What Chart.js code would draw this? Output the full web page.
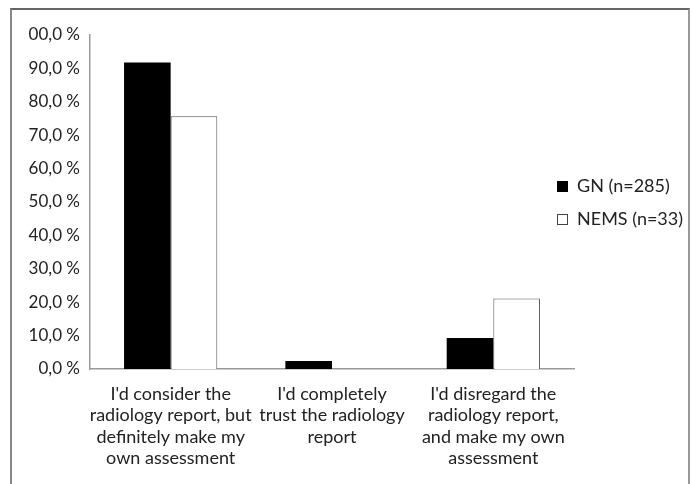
<!DOCTYPE html>
<html>
<head>
<meta charset="utf-8">
<script src="https://cdn.jsdelivr.net/npm/chart.js@4"></script>
<style>
  html, body { margin: 0; padding: 0; background: #fff; }
  #wrap { position: relative; width: 694px; height: 484px; overflow: hidden; }
  #frame {
    position: absolute; left: 10px; top: 8px; width: 676px; height: 520px;
    border-top: 2px solid #666; border-left: 2px solid #888; border-right: 2px solid #999;
  }
  #chart { position: absolute; left: 0; top: 0; }
  .legend { position: absolute; left: 557px; font-family: Lato, sans-serif; font-size: 18px; color: #222; line-height: 22px; }
  .legend span.box { display: inline-block; width: 11px; height: 11px; box-sizing: border-box; margin-right: 9px; vertical-align: 0px; }
</style>
</head>
<body>
<div id="wrap">
  <div id="frame"></div>
  <canvas id="chart" width="694" height="484"></canvas>
  <div id="legend"></div>
</div>
<script>
// categories and values
const categories = [
    ["I'd consider the", 'radiology report, but', 'definitely make my', 'own assessment'],
    ["I'd completely", 'trust the radiology', 'report'],
    ["I'd disregard the", 'radiology report,', 'and make my own', 'assessment']
];
const seriesNames = ['GN (n=285)', 'NEMS (n=33)'];
const gnValues = [91.8, 2.4, 9.3];
const nemsValues = [75.7, 0, 21.1];
// as printed in the picture (the leading 1 of the top label is clipped off)
const tickLabels = ['0,0 %', '10,0 %', '20,0 %', '30,0 %', '40,0 %', '50,0 %',
    '60,0 %', '70,0 %', '80,0 %', '90,0 %', '00,0 %'];

const font = 'Lato, sans-serif';
const ink = '#222';

new Chart(document.getElementById('chart'), {
    type: 'bar',
    data: {
        labels: categories,
        datasets: [
            { label: seriesNames[0], data: gnValues, backgroundColor: '#000', borderColor: '#000', borderWidth: 0 },
            { label: seriesNames[1], data: nemsValues, backgroundColor: '#fff', borderColor: '#555', borderWidth: 1 }
        ]
    },
    options: {
        responsive: false,
        animation: false,
        layout: { padding: { left: 0, right: 120, top: 35, bottom: 0 } },
        datasets: { bar: { categoryPercentage: 0.578, barPercentage: 1 } },
        plugins: { legend: { display: false }, tooltip: { enabled: false } },
        scales: {
            x: {
                grid: { display: false, drawTicks: false },
                border: { display: true, color: '#999', width: 1.5 },
                ticks: { color: ink, font: { family: font, size: 18, lineHeight: 1.2 }, padding: 14, maxRotation: 0, autoSkip: false },
                afterFit: s => { s.height = 115; }
            },
            y: {
                min: 0, max: 100,
                grid: { display: false, drawTicks: false },
                border: { display: true, color: '#999', width: 1.5 },
                ticks: {
                    stepSize: 10, color: ink, padding: 10,
                    font: { family: font, size: 17 },
                    callback: (v, i) => tickLabels[i]
                },
                afterFit: s => { s.width = 90; }
            }
        }
    }
});

// legend as real text, placed where the reference shows it
const legend = document.getElementById('legend');
const swatches = [
    'background:#000;',
    'background:#fff;border:1px solid #444;'
];
seriesNames.forEach((name, i) => {
    const row = document.createElement('div');
    row.className = 'legend';
    row.style.top = (174 + i * 33) + 'px';
    row.innerHTML = '<span class="box" style="' + swatches[i] + '"></span>' + name;
    legend.appendChild(row);
});
</script>
</body>
</html>
